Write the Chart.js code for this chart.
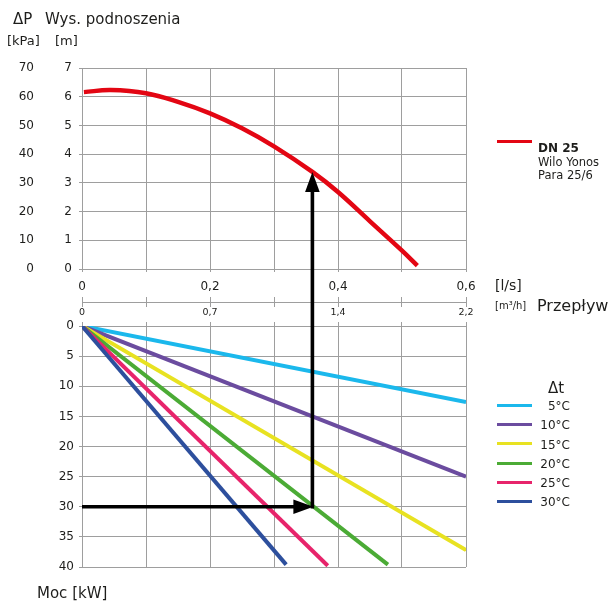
<!DOCTYPE html>
<html><head><meta charset="utf-8">
<script src="https://cdn.jsdelivr.net/npm/chart.js@4/dist/chart.umd.min.js"></script>
<style>
html,body{margin:0;padding:0;background:#fff;}
#wrap{position:relative;width:611px;height:604px;overflow:hidden;font-family:'DejaVu Sans',sans-serif;color:#1d1d1b;background:#fff;}
canvas{position:absolute;left:0;top:0;}
.t{position:absolute;white-space:nowrap;line-height:1;}
.ln{position:absolute;}
</style></head><body>
<div id="wrap">
<canvas id="cA" width="611" height="604"></canvas>
<canvas id="cC" width="611" height="604"></canvas>
<canvas id="cB" width="611" height="604"></canvas>
<div class="t" style="left:13px;top:12px;font-size:15px">ΔP</div>
<div class="t" style="left:45px;top:12px;font-size:15px">Wys. podnoszenia</div>
<div class="t" style="left:7px;top:34px;font-size:13px">[kPa]</div>
<div class="t" style="left:55px;top:34px;font-size:13px">[m]</div>
<div class="t" style="left:495px;top:278px;font-size:14px">[l/s]</div>
<div class="t" style="left:495px;top:301px;font-size:10px">[m³/h]</div>
<div class="t" style="left:537px;top:298px;font-size:16px">Przepływ</div>
<div class="t" style="left:37px;top:586px;font-size:15px">Moc [kW]</div>
<div id="legPump"></div>
<div class="t" style="left:548px;top:381px;font-size:15px">Δt</div>
<div id="legDt"></div>
</div>
<script>
// ---- data ----
const flowLs = [0.003, 0.045, 0.10, 0.15, 0.20, 0.25, 0.30, 0.36, 0.40, 0.45, 0.50, 0.524];
const headM  = [6.16, 6.23, 6.12, 5.82, 5.42, 4.90, 4.27, 3.38, 2.68, 1.66, 0.64, 0.12];
const pumpName = 'DN 25';
const pumpModel = ['Wilo Yonos', 'Para 25/6'];

const dtLabels = ['5°C', '10°C', '15°C', '20°C', '25°C', '30°C'];
const powerEndFlow = [0.6, 0.6, 0.6, 0.478, 0.384, 0.319];
const powerEndKW   = [12.6, 25.0, 37.2, 39.6, 39.8, 39.6];

const opFlow = 0.36;
const opHead = 3.38;
const opPower = 30;

const flowTicksLs = [0, 0.2, 0.4, 0.6];
const flowLabelsLs = ['0', '0,2', '0,4', '0,6'];
const flowLabelsM3h = ['0', '0,7', '1,4', '2,2'];

// ---- styles ----
const pumpColor = '#e30613';
const dtColors = ['#1bb8ec', '#6b4c9f', '#e8e221', '#4bab35', '#e7246b', '#2d4f9d'];
const gridC = '#9e9e9e';
const txtC = '#1d1d1b';

Chart.defaults.font.family = "'DejaVu Sans', sans-serif";
Chart.defaults.color = txtC;

function flowLabel(arr) {
  return (v) => {
    const i = flowTicksLs.findIndex(t => Math.abs(t - v) < 1e-6);
    return i >= 0 ? arr[i] : '';
  };
}
const common = {
  responsive: false, animation: false, events: [],
  plugins: { legend: { display: false }, tooltip: { enabled: false } }
};

// ---- top chart: pump curve ----
const chartA = new Chart(document.getElementById('cA'), {
  type: 'line',
  data: { datasets: [{
    label: pumpName,
    data: flowLs.map((q, i) => ({ x: q, y: headM[i] })),
    borderColor: pumpColor, borderWidth: 4.5, pointRadius: 0,
    tension: 0.4, fill: false, yAxisID: 'y'
  }]},
  options: Object.assign({}, common, {
    layout: { padding: { left: 0, top: 68, right: 145, bottom: 305 } },
    scales: {
      x: { type: 'linear', position: 'bottom', min: 0, max: 0.6,
        ticks: { stepSize: 0.1, autoSkip: false, maxRotation: 0, padding: 8, font: { size: 12 }, callback: flowLabel(flowLabelsLs) },
        grid: { color: gridC, tickLength: 3 }, border: { color: gridC },
        afterFit(s) { s.height = 30; } },
      yk: { type: 'linear', position: 'left', weight: 1, min: 0, max: 70,
        ticks: { stepSize: 10, padding: 0, font: { size: 12 } },
        grid: { display: false, drawTicks: false }, border: { display: false },
        afterFit(s) { s.width = 34; } },
      y: { type: 'linear', position: 'left', weight: 0, min: 0, max: 7,
        ticks: { stepSize: 1, padding: 7, font: { size: 12 } },
        grid: { color: gridC, tickLength: 3 }, border: { color: gridC },
        afterFit(s) { s.width = 48; } }
    }
  })
});

// ---- middle axis: m3/h ----
const chartC = new Chart(document.getElementById('cC'), {
  type: 'line',
  data: { datasets: [] },
  options: Object.assign({}, common, {
    layout: { padding: { left: 82, top: 297, right: 145, bottom: 277 } },
    scales: {
      x: { type: 'linear', position: 'bottom', min: 0, max: 0.6,
        ticks: { stepSize: 0.1, autoSkip: false, maxRotation: 0, padding: 0, font: { size: 9.5 }, callback: flowLabel(flowLabelsM3h) },
        grid: { color: gridC, drawTicks: false }, border: { display: false },
        afterFit(s) { s.height = 20; } },
      y: { type: 'linear', position: 'left', min: -1, max: 1,
        ticks: { display: false, stepSize: 1 },
        grid: { color: (c) => (c.tick && c.tick.value === 0) ? gridC : 'rgba(0,0,0,0)', drawTicks: false },
        border: { display: false },
        afterFit(s) { s.width = 0; } }
    }
  })
});

// ---- arrows plugin ----
const arrowPlugin = {
  id: 'opArrows',
  afterDatasetsDraw(chart) {
    const ctx = chart.ctx;
    const xs = chart.scales.x, ys = chart.scales.y;
    const xOp = xs.getPixelForValue(opFlow);
    const yOp = ys.getPixelForValue(opPower);
    const x0 = xs.getPixelForValue(0);
    const yTop = chartA.scales.y.getPixelForValue(opHead);
    ctx.save();
    ctx.strokeStyle = '#000'; ctx.fillStyle = '#000'; ctx.lineWidth = 3.6; ctx.lineCap = 'butt';
    ctx.beginPath(); ctx.moveTo(x0, yOp); ctx.lineTo(xOp - 16, yOp); ctx.stroke();
    ctx.beginPath(); ctx.moveTo(xOp + 1, yOp); ctx.lineTo(xOp - 19, yOp - 7.2); ctx.lineTo(xOp - 19, yOp + 7.2); ctx.closePath(); ctx.fill();
    ctx.beginPath(); ctx.moveTo(xOp, yOp + 1.8); ctx.lineTo(xOp, yTop + 17); ctx.stroke();
    ctx.beginPath(); ctx.moveTo(xOp, yTop); ctx.lineTo(xOp - 7.3, yTop + 20); ctx.lineTo(xOp + 7.3, yTop + 20); ctx.closePath(); ctx.fill();
    ctx.restore();
  }
};

// ---- bottom chart: power ----
const chartB = new Chart(document.getElementById('cB'), {
  type: 'line',
  data: { datasets: dtLabels.map((lab, i) => ({
    label: lab,
    data: [{ x: 0, y: 0 }, { x: powerEndFlow[i], y: powerEndKW[i] }],
    borderColor: dtColors[i], borderWidth: 4, pointRadius: 0, fill: false
  })).reverse() },
  options: Object.assign({}, common, {
    layout: { padding: { left: 0, top: 322, right: 145, bottom: 37 } },
    scales: {
      x: { type: 'linear', position: 'top', min: 0, max: 0.6,
        ticks: { display: false, stepSize: 0.1 },
        grid: { color: gridC, tickLength: 4 }, border: { color: gridC },
        afterFit(s) { s.height = 4; } },
      y: { type: 'linear', position: 'left', reverse: true, min: 0, max: 40,
        ticks: { stepSize: 5, padding: 5, font: { size: 12 } },
        grid: { color: gridC, tickLength: 3 }, border: { color: gridC },
        afterFit(s) { s.width = 82; } }
    }
  }),
  plugins: [arrowPlugin]
});

// ---- legends (HTML, from the arrays) ----
(function () {
  const lp = document.getElementById('legPump');
  lp.innerHTML =
    '<div class="ln" style="left:497px;top:139.5px;width:35px;height:3.5px;background:' + pumpColor + '"></div>' +
    '<div class="t" style="left:538px;top:142px;font-size:12px;font-weight:bold">' + pumpName + '</div>' +
    pumpModel.map((m, i) => '<div class="t" style="left:538px;top:' + (157 + i * 13) + 'px;font-size:11.5px">' + m + '</div>').join('');
  const ld = document.getElementById('legDt');
  ld.innerHTML = dtLabels.map((lab, i) => {
    const yc = 406 + i * 19.2;
    return '<div class="ln" style="left:497px;top:' + (yc - 2) + 'px;width:35px;height:3px;background:' + dtColors[i] + '"></div>' +
      '<div class="t" style="right:41px;top:' + (yc - 5.8) + 'px;font-size:12px;text-align:right">' + lab + '</div>';
  }).join('');
})();
</script>
</body></html>
